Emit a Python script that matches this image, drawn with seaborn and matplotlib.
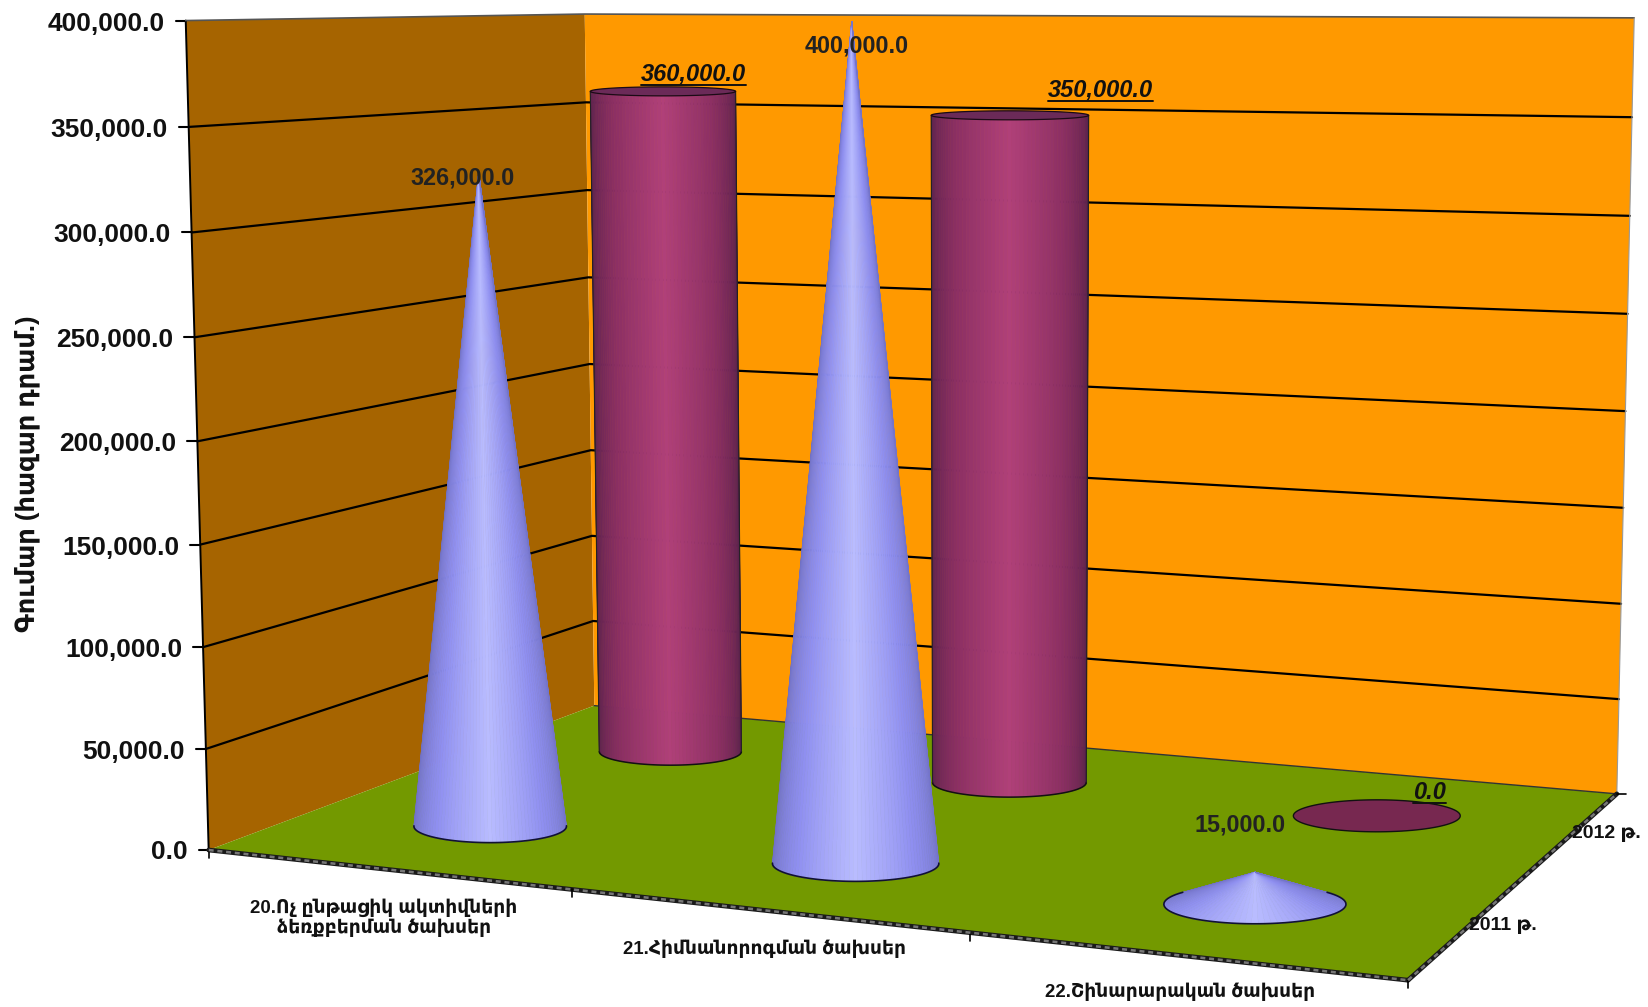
import numpy as np
import matplotlib
matplotlib.use("Agg")
import matplotlib.pyplot as plt
import seaborn as sns

# values
categories = ["20.Ոչ ընթացիկ ակտիվների\nձեռքբերման ծախսեր", "21.Հիմնանորոգման ծախսեր", "22.Շինարարական ծախսեր"]
series_names = ["2011 թ.", "2012 թ."]
values_2011 = [326000.0, 400000.0, 15000.0]
values_2012 = [360000.0, 350000.0, 0.0]
y_ticks = [0, 50000, 100000, 150000, 200000, 250000, 300000, 350000, 400000]
y_max = 400000.0
y_title = "Գումար (հազար դրամ.)"

sns.set_style("white")
plt.rcParams["font.family"] = ["Liberation Sans", "DejaVu Sans"]

W, H = 1648, 1007
S = W / 1568.0

# ── camera: box corners (cat, depth, height) -> where they sit in the picture ──
box = [(0, 0, 0), (0, 0, 1), (0, 1, 1), (0, 1, 0), (1, 1, 1), (1, 1, 0), (1, 0, 0)]
seen = [(198, 808), (177, 20), (556, 13), (566, 672), (1555, 17), (1538, 755), (1340, 933)]
rows = []
for (a, b, c), (px, py) in zip(box, seen):
    px, py = px * S, py * S
    rows.append([a, b, c, 1, 0, 0, 0, 0, -px * a, -px * b, -px * c, -px])
    rows.append([0, 0, 0, 0, a, b, c, 1, -py * a, -py * b, -py * c, -py])
cam = np.linalg.svd(np.array(rows))[2][-1].reshape(3, 4)


def project(cat, depth, val):
    q = cam @ np.array([cat / 3.0, depth, val / y_max, 1.0])
    return q[0] / q[2], q[1] / q[2]


fig = plt.figure(figsize=(W / 100, H / 100), dpi=100, facecolor="white")
ax = fig.add_axes([0, 0, 1, 1])
ax.set_xlim(0, W)
ax.set_ylim(H, 0)
ax.set_axis_off()


def face(corners, color):
    pts = [project(*c) for c in corners]
    ax.fill([p[0] for p in pts], [p[1] for p in pts], color=color, lw=0, zorder=1)


# walls and floor
face([(0, 0, 0), (0, 0, y_max), (0, 1, y_max), (0, 1, 0)], "#A66400")
face([(0, 1, 0), (0, 1, y_max), (3, 1, y_max), (3, 1, 0)], "#FF9900")
face([(0, 0, 0), (0, 1, 0), (3, 1, 0), (3, 0, 0)], "#739900")


def line(points, color="black", lw=1.5, z=2, **kw):
    pts = [project(*p) for p in points]
    sns.lineplot(x=[p[0] for p in pts], y=[p[1] for p in pts], color=color, lw=lw,
                 sort=False, estimator=None, legend=False, ax=ax, zorder=z, **kw)


# gridlines and y axis
for t in y_ticks:
    if 0 < t < y_max:
        line([(0, 0, t), (0, 1, t), (3, 1, t)], lw=1.6)
    x0, y0 = project(0, 0, t)
    ax.plot([x0 - 10, x0], [y0, y0], color="black", lw=1.5, zorder=2)
    ax.text(x0 - 21, y0 + 3 if t else y0 + 2, f"{t:,.1f}", ha="right", va="center",
            fontsize=19, fontweight="bold", color="#111111", zorder=6)
line([(0, 0, 0), (0, 0, y_max)], lw=1.4)
line([(0, 0, y_max), (0, 1, y_max), (3, 1, y_max)], color="#555555", lw=1.2)
line([(0, 1, 0), (3, 1, 0)], color="#333333", lw=1.0)
line([(3, 1, 0), (3, 1, y_max)], color="#999999", lw=0.8)

# heavy front edges with their dense ticks
line([(0, 0, 0), (3, 0, 0)], color="#1a1a1a", lw=3.4)
line([(0, 0, 0), (3, 0, 0)], color="#777777", lw=1.8, z=3, dashes=(2, 1.5))
line([(3, 0, 0), (3, 1, 0)], color="#1a1a1a", lw=3.4)
line([(3, 0, 0), (3, 1, 0)], color="#777777", lw=1.8, z=3, dashes=(2, 1.5))
for c in range(4):
    x0, y0 = project(c, 0, 0)
    ax.plot([x0, x0], [y0, y0 + 8], color="black", lw=1.2, zorder=2)
x0, y0 = project(3, 1, 0)
ax.plot([x0, x0 + 9], [y0, y0], color="black", lw=1.2, zorder=2)

# ── 3d marks ───────────────────────────────────────────────────────────────
cone_shades = sns.blend_palette(["#6F6FC0", "#8F8FF0", "#B9BCFF", "#8F8FF0", "#7474C8"], 61)
cyl_shades = sns.blend_palette(["#55214A", "#8A2F62", "#B04079", "#8A2F62", "#55214A"], 61)
rad_cat, rad_depth = 0.218, 0.1
theta = np.linspace(np.pi, 2 * np.pi, 62)


def radii(cat, depth, val):
    xa, _ = project(cat - rad_cat, depth, val)
    xb, _ = project(cat + rad_cat, depth, val)
    _, ya = project(cat, depth + rad_depth, val)
    _, yb = project(cat, depth - rad_depth, val)
    return abs(xb - xa) / 2, max(abs(yb - ya) / 2, 4.5)


def rim(cat, depth, val, th):
    cx, cy = project(cat, depth, val)
    rx, ry = radii(cat, depth, val)
    return cx + rx * np.cos(th), cy - ry * np.sin(th)


def draw_cone(cat, depth, val, z):
    tip_x, tip_y = project(cat, depth, val)
    cx, cy = project(cat, depth, 0)
    # only the arc between the two tangents from the tip is visible
    rx, ry = radii(cat, depth, 0)
    h = max((cy - tip_y) / ry, 1.001)
    tangent = np.arcsin(1.0 / h)
    arc = np.linspace(np.pi - tangent, 2 * np.pi + tangent, 62)
    xs, ys = rim(cat, depth, 0, arc)
    for i in range(61):
        c = cone_shades[i]
        ax.fill([tip_x, xs[i], xs[i + 1]], [tip_y, ys[i], ys[i + 1]], color=c, lw=0.5, ec=c, zorder=z)
    ax.plot(xs, ys, color="#111133", lw=1.2, zorder=z + 0.1)


def draw_cylinder(cat, depth, val, z):
    if val <= 0:
        th = np.linspace(0, 2 * np.pi, 100)
        xs, ys = rim(cat, depth, 0, th)
        ax.fill(xs, ys, fc="#772850", ec="#111111", lw=1.0, zorder=z)
        return
    xs, ys = rim(cat, depth, 0, theta)
    xt, yt = rim(cat, depth, val, theta)
    for i in range(61):
        c = cyl_shades[i]
        ax.fill([xs[i], xs[i + 1], xt[i + 1], xt[i]], [ys[i], ys[i + 1], yt[i + 1], yt[i]],
                color=c, lw=0.5, ec=c, zorder=z)
    ax.plot(xs, ys, color="#111111", lw=1.1, zorder=z + 0.1)
    ax.plot([xs[0], xt[0]], [ys[0], yt[0]], color="#222222", lw=0.8, zorder=z + 0.1)
    ax.plot([xs[-1], xt[-1]], [ys[-1], yt[-1]], color="#222222", lw=0.8, zorder=z + 0.1)
    th = np.linspace(0, 2 * np.pi, 100)
    xc, yc = rim(cat, depth, val, th)
    ax.fill(xc, yc, fc="#6B2A58", ec="#1a0a15", lw=0.9, zorder=z + 0.2)


for i, v in enumerate(values_2012):
    draw_cylinder(i + 0.5, 0.75, v, 4)
for i, v in enumerate(values_2011):
    draw_cone(i + 0.5, 0.25, v, 5)

# ── text ───────────────────────────────────────────────────────────────────
ax.text(26 * S, 451 * S, y_title, rotation=90, ha="center", va="center", fontsize=18.5,
        fontweight="bold", color="#111111", zorder=6)

cat_label_xy = [(365, 873), (727, 903), (1123, 944)]
for name, (x, y) in zip(categories, cat_label_xy):
    ax.text(x * S, y * S, name, ha="center", va="center", fontsize=13.4, fontweight="bold",
            color="#111111", linespacing=1.1, zorder=6)
series_xy = [(1430, 881), (1528, 793)]
for name, (x, y) in zip(series_names, series_xy):
    ax.text(x * S, y * S, name, ha="center", va="center", fontsize=14, fontweight="bold",
            color="#111111", zorder=6)

label_xy_2011 = [(440, 169), (815, 44), (1180, 785)]
label_xy_2012 = [(660, 70), (1047, 86), (1360, 754)]
for v, (x, y) in zip(values_2011, label_xy_2011):
    ax.text(x * S, y * S, f"{v:,.1f}", ha="center", va="center", fontsize=16.8, fontweight="bold",
            color="#222222", zorder=7)
fig.canvas.draw()
for v, (x, y) in zip(values_2012, label_xy_2012):
    t = ax.text(x * S, y * S, f"{v:,.1f}", ha="center", va="center", fontsize=17, fontweight="bold",
                fontstyle="italic", color="#111111", zorder=7)
    bb = t.get_window_extent()
    ax.plot([bb.x0, bb.x1], [y * S + 11, y * S + 11], color="#111111", lw=1.4, zorder=7)

ax.set_xlim(0, W)
ax.set_ylim(H, 0)
fig.savefig("out.png", dpi=100, facecolor="white")
